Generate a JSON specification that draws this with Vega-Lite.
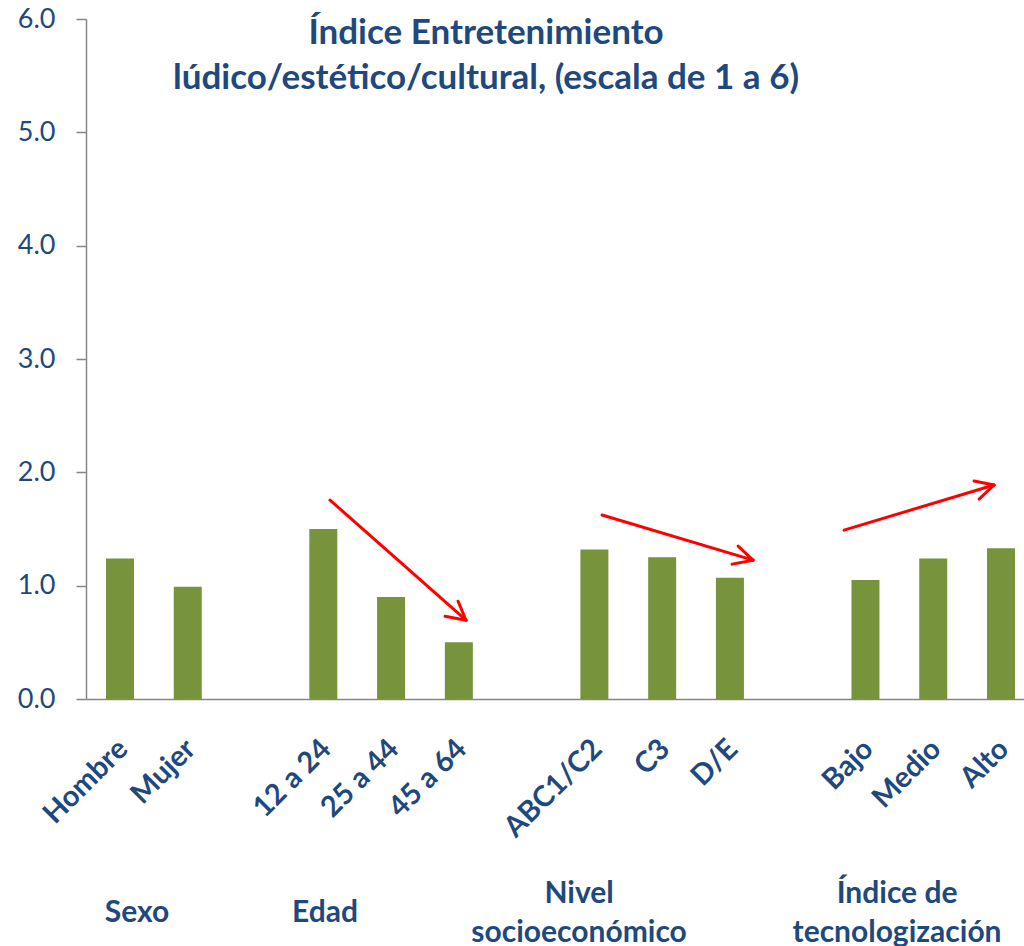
{
  "$schema": "https://vega.github.io/schema/vega-lite/v6.json",
  "width": 938,
  "height": 680,
  "autosize": {"type": "none"},
  "padding": {"left": 86, "top": 19, "right": 0, "bottom": 247},
  "background": "white",
  "config": {"view": {"stroke": null}, "font": "Lato"},
  "title": {
    "text": ["Índice Entretenimiento", "lúdico/estético/cultural, (escala de 1 a 6)"],
    "font": "Lato",
    "fontSize": 35,
    "fontWeight": "bold",
    "color": "#1F497D",
    "anchor": "middle",
    "frame": "group",
    "lineHeight": 45,
    "baseline": "top",
    "offset": 0,
    "dx": -69,
    "dy": 91
  },
  "layer": [
    {
      "data": {"values": [
        {"cat": "Hombre", "value": 1.24},
        {"cat": "Mujer", "value": 0.99},
        {"cat": "12 a 24", "value": 1.50},
        {"cat": "25 a 44", "value": 0.90},
        {"cat": "45 a 64", "value": 0.50},
        {"cat": "ABC1/C2", "value": 1.32},
        {"cat": "C3", "value": 1.25},
        {"cat": "D/E", "value": 1.07},
        {"cat": "Bajo", "value": 1.05},
        {"cat": "Medio", "value": 1.24},
        {"cat": "Alto", "value": 1.33}
      ]},
      "mark": {"type": "bar", "color": "#77933C"},
      "encoding": {
        "x": {
          "field": "cat", "type": "nominal", "sort": null,
          "scale": {
            "domain": ["Hombre", "Mujer", "_1", "12 a 24", "25 a 44", "45 a 64", "_2", "ABC1/C2", "C3", "D/E", "_3", "Bajo", "Medio", "Alto"],
            "range": [0, 949],
            "paddingInner": 0.587,
            "paddingOuter": 0.295
          },
          "axis": {
            "title": null,
            "labelAngle": -45,
            "labelAlign": "right",
            "labelBaseline": "middle",
            "labelFont": "Lato",
            "labelFontWeight": "bold",
            "labelFontSize": 29,
            "labelColor": "#1F497D",
            "ticks": false,
            "domainColor": "#868686",
            "domainWidth": 1.5,
            "labelPadding": 45,
            "labelOffset": 3,
            "labelOverlap": false,
            "labelExpr": "indexof(datum.value, '_') == 0 ? '' : datum.value"
          }
        },
        "y": {
          "field": "value", "type": "quantitative",
          "scale": {"domain": [0, 6], "nice": false},
          "axis": {
            "title": null,
            "values": [0, 1, 2, 3, 4, 5, 6],
            "format": ".1f",
            "grid": false,
            "domainColor": "#868686",
            "domainWidth": 1.5,
            "tickColor": "#868686",
            "tickWidth": 1.5,
            "tickSize": 10,
            "labelFont": "Lato",
            "labelFontSize": 27,
            "labelColor": "#1F497D",
            "labelPadding": 21
          }
        }
      }
    },
    {
      "data": {"values": [
        {"x1": 3.600, "y1": 1.755, "x2": 5.606, "y2": 0.695},
        {"x1": 5.606, "y1": 0.695, "x2": 5.297, "y2": 0.730},
        {"x1": 5.606, "y1": 0.695, "x2": 5.488, "y2": 0.863},
        {"x1": 7.613, "y1": 1.623, "x2": 9.841, "y2": 1.225},
        {"x1": 9.841, "y1": 1.225, "x2": 9.531, "y2": 1.190},
        {"x1": 9.841, "y1": 1.225, "x2": 9.620, "y2": 1.349},
        {"x1": 11.183, "y1": 1.490, "x2": 13.396, "y2": 1.888},
        {"x1": 13.396, "y1": 1.888, "x2": 13.175, "y2": 1.764},
        {"x1": 13.396, "y1": 1.888, "x2": 13.101, "y2": 1.923}
      ]},
      "mark": {"type": "rule", "color": "#FF0000", "strokeWidth": 3, "strokeCap": "round"},
      "encoding": {
        "x": {"field": "x1", "type": "quantitative", "scale": {"domain": [0, 14], "range": [0, 949], "nice": false, "zero": false}, "axis": null},
        "x2": {"field": "x2"},
        "y": {"field": "y1", "type": "quantitative", "scale": {"domain": [0, 6], "nice": false}, "title": null},
        "y2": {"field": "y2"}
      }
    },
    {
      "data": {"values": [
        {"g": "Sexo", "gx": 0.752},
        {"g": "Edad", "gx": 3.526}
      ]},
      "mark": {"type": "text", "font": "Lato", "fontWeight": "bold", "fontSize": 30, "color": "#1F497D", "baseline": "middle", "align": "center", "dy": 214},
      "encoding": {
        "x": {"field": "gx", "type": "quantitative", "scale": {"domain": [0, 14], "range": [0, 949], "nice": false, "zero": false}, "axis": null},
        "y": {"datum": 0, "type": "quantitative", "scale": {"domain": [0, 6], "nice": false}, "title": null},
        "text": {"field": "g"}
      }
    },
    {
      "data": {"values": [
        {"g": "Nivel\nsocioeconómico", "gx": 7.274},
        {"g": "Índice de\ntecnologización", "gx": 11.965}
      ]},
      "mark": {"type": "text", "font": "Lato", "fontWeight": "bold", "fontSize": 30, "color": "#1F497D", "lineBreak": "\n", "lineHeight": 39, "baseline": "middle", "align": "center", "dy": 195},
      "encoding": {
        "x": {"field": "gx", "type": "quantitative", "scale": {"domain": [0, 14], "range": [0, 949], "nice": false, "zero": false}, "axis": null},
        "y": {"datum": 0, "type": "quantitative", "scale": {"domain": [0, 6], "nice": false}, "title": null},
        "text": {"field": "g"}
      }
    }
  ],
  "resolve": {"scale": {"x": "independent"}, "axis": {"x": "independent"}}
}
